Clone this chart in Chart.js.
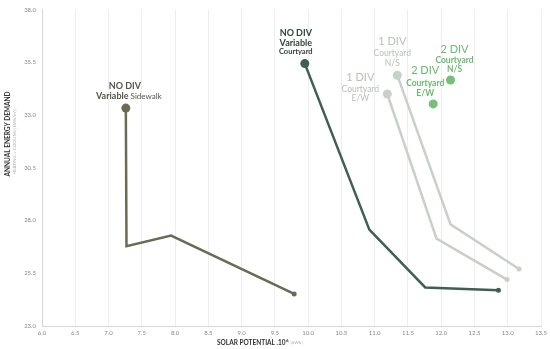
<!DOCTYPE html>
<html>
<head>
<meta charset="utf-8">
<script src="https://cdn.jsdelivr.net/npm/chart.js@4/dist/chart.umd.min.js"></script>
<style>
  html, body { margin: 0; padding: 0; background: #fff; }
  #wrap { width: 550px; height: 349px; }
</style>
</head>
<body>
<div id="wrap"><canvas id="chart"></canvas></div>
<script>
// solar potential (x) and annual energy demand (y) for each scheme
var sidewalkX = [7.26, 7.27, 7.94, 9.79];
var sidewalkY = [33.33, 26.78, 27.29, 24.52];
var courtX = [9.95, 10.92, 11.76, 12.86];
var courtY = [35.44, 27.57, 24.83, 24.70];
var div1ewX = [11.19, 11.93, 12.99];
var div1ewY = [34.0, 27.14, 25.2];
var div1nsX = [11.34, 12.14, 13.17];
var div1nsY = [34.89, 27.82, 25.7];
var div2ewX = [11.88];
var div2ewY = [33.53];
var div2nsX = [12.14];
var div2nsY = [34.66];

var yTicks = [23.0, 25.5, 28.0, 30.5, 33.0, 35.5, 38.0];

function pts(xs, ys) {
  return xs.map(function (x, i) { return { x: x, y: ys[i] }; });
}

// label text for each series, drawn next to its first point
var labels = [
  [["NO DIV", "bold 9px Lato", -1, -22], [["Variable", "bold 9px Lato"], [" Sidewalk", "8px Lato"]], -12, 3],
  [["NO DIV", "bold 9px Lato", -9, -31], ["Variable", "bold 9px Lato", -9, -21], ["Courtyard", "bold 7.5px Lato", -9, -12]],
  [["1 DIV", "11px Lato", -27, -17], ["Courtyard", "8.5px Lato", -27, -5], ["E/W", "8.5px Lato", -27, 4]],
  [["1 DIV", "11px Lato", -5, -34], ["Courtyard", "8.5px Lato", -5, -22], ["N/S", "8.5px Lato", -5, -12]],
  [["2 DIV", "11px Lato", -8, -33], ["Courtyard", "bold 8.5px Lato", -8, -21], ["E/W", "bold 8.5px Lato", -8, -11]],
  [["2 DIV", "11px Lato", 4, -31], ["Courtyard", "bold 8.5px Lato", 4, -20], ["N/S", "bold 8.5px Lato", 4, -11]]
];
var labelColors = ["#55564a", "#2f4238", "#b9c0b9", "#b9c0b9", "#6cb870", "#6cb870"];

var labelPlugin = {
  id: 'labels',
  afterDatasetsDraw: function (chart) {
    var ctx = chart.ctx;
    ctx.save();
    ctx.textAlign = 'center';
    ctx.textBaseline = 'middle';
    labels.forEach(function (set, di) {
      var p = chart.getDatasetMeta(di).data[0];
      ctx.fillStyle = labelColors[di];
      if (di === 0) {
        var l = set[0];
        ctx.font = l[1];
        ctx.fillText(l[0], p.x + l[2], p.y + l[3]);
        // mixed line
        var parts = set[1];
        var w = 0;
        parts.forEach(function (pt) { ctx.font = pt[1]; w += ctx.measureText(pt[0]).width; });
        var sx = p.x + set[3] - w / 2;
        ctx.textAlign = 'left';
        parts.forEach(function (pt) {
          ctx.font = pt[1];
          ctx.fillText(pt[0], sx, p.y + set[2]);
          sx += ctx.measureText(pt[0]).width;
        });
        ctx.textAlign = 'center';
        return;
      }
      set.forEach(function (l) {
        ctx.font = l[1];
        ctx.fillText(l[0], p.x + l[2], p.y + l[3]);
      });
    });

    // axis titles
    var a = chart.chartArea;
    ctx.save();
    ctx.translate(8, 134);
    ctx.rotate(-Math.PI / 2);
    ctx.fillStyle = '#333';
    ctx.font = 'bold 6.5px Lato';
    ctx.fillText('ANNUAL ENERGY DEMAND', 0, 0);
    ctx.fillStyle = '#aaa';
    ctx.font = '4.5px Lato';
    ctx.fillText('HEATING + COOLING [kWh/m\u00b2]', -8, 7);
    ctx.restore();

    ctx.textAlign = 'left';
    var t1 = 'SOLAR POTENTIAL .10';
    ctx.font = 'bold 6.5px Lato';
    var w1 = ctx.measureText(t1).width;
    var x0 = 217;
    var yb = 343;
    ctx.fillStyle = '#333';
    ctx.fillText(t1, x0, yb);
    ctx.font = 'bold 4.5px Lato';
    ctx.fillText('6', x0 + w1 + 0.5, yb - 2.5);
    ctx.fillStyle = '#aaa';
    ctx.font = '4.5px Lato';
    ctx.fillText('[kWh]', x0 + w1 + 5, yb);
    ctx.restore();
  }
};

function series(xs, ys, color, radii, width) {
  return {
    data: pts(xs, ys),
    showLine: true,
    borderColor: color,
    backgroundColor: color,
    borderWidth: width,
    pointRadius: radii,
    pointHoverRadius: radii,
    pointBorderWidth: 0,
    tension: 0
  };
}

new Chart(document.getElementById('chart'), {
  type: 'scatter',
  data: {
    datasets: [
      series(sidewalkX, sidewalkY, '#6b6b54', [4.5, 0, 0, 2.5], 2.5),
      series(courtX, courtY, '#3f5f52', [4.5, 0, 0, 2.5], 2.5),
      series(div1ewX, div1ewY, '#c9cfc9', [4.5, 0, 2.5], 2.5),
      series(div1nsX, div1nsY, '#c9cfc9', [4.5, 0, 2.5], 2.5),
      series(div2ewX, div2ewY, '#77bf7a', [4.5], 2.5),
      series(div2nsX, div2nsY, '#77bf7a', [4.5], 2.5)
    ]
  },
  options: {
    responsive: true,
    maintainAspectRatio: false,
    animation: false,
    layout: { padding: { top: 5, right: 9, left: 0, bottom: 0 } },
    plugins: { legend: { display: false }, tooltip: { enabled: false } },
    scales: {
      x: {
        type: 'linear',
        min: 6, max: 13.5,
        afterFit: function (s) { s.height = 23; },
        ticks: {
          stepSize: 0.5,
          padding: 3,
          color: '#888',
          font: { size: 6, family: 'Lato' },
          callback: function (v) { return v.toFixed(1); }
        },
        grid: { color: '#eeeeee', drawTicks: false, lineWidth: 1 },
        border: { color: '#d6d6d6' }
      },
      y: {
        type: 'linear',
        min: yTicks[0], max: yTicks[yTicks.length - 1],
        afterFit: function (s) { s.width = 42; },
        afterBuildTicks: function (s) {
          s.ticks = yTicks.map(function (v) { return { value: v }; });
        },
        ticks: {
          padding: 6,
          color: '#888',
          font: { size: 6, family: 'Lato' },
          callback: function (v) { return v.toFixed(1); }
        },
        grid: { drawOnChartArea: false, drawTicks: false },
        border: { color: '#d6d6d6' }
      }
    }
  },
  plugins: [labelPlugin]
});
</script>
</body>
</html>
